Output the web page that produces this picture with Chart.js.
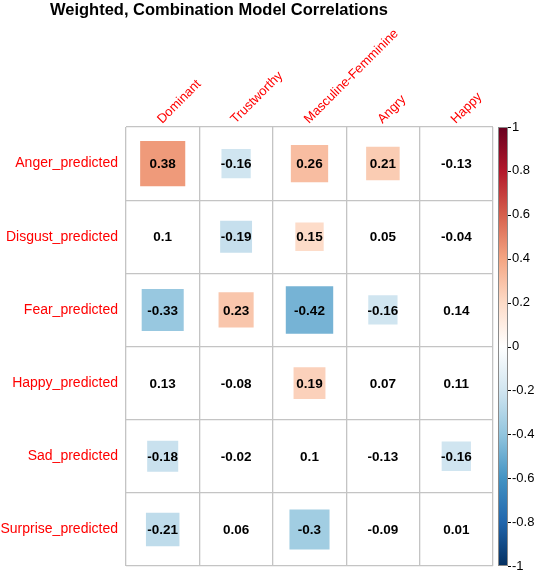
<!DOCTYPE html>
<html>
<head>
<meta charset="utf-8">
<title>Weighted, Combination Model Correlations</title>
<script src="https://cdn.jsdelivr.net/npm/chart.js@4.4.1/dist/chart.umd.min.js"></script>
<style>
    html, body { margin: 0; padding: 0; background: #ffffff; }
    #wrap { position: relative; width: 536px; height: 573px; }
</style>
</head>
<body>
<div id="wrap"><canvas id="corr-chart"></canvas></div>
<script>
(function () {
    "use strict";

    const titleText = "Weighted, Combination Model Correlations";
    const traits = ["Dominant", "Trustworthy", "Masculine-Femminine", "Angry", "Happy"];
    const predicted = ["Anger_predicted", "Disgust_predicted", "Fear_predicted", "Happy_predicted", "Sad_predicted", "Surprise_predicted"];

    // one row per predicted emotion, same order as traits
    const angerRow = [0.38, -0.16, 0.26, 0.21, -0.13];
    const disgustRow = [0.1, -0.19, 0.15, 0.05, -0.04];
    const fearRow = [-0.33, 0.23, -0.42, -0.16, 0.14];
    const happyRow = [0.13, -0.08, 0.19, 0.07, 0.11];
    const sadRow = [-0.18, -0.02, 0.1, -0.13, -0.16];
    const surpriseRow = [-0.21, 0.06, -0.3, -0.09, 0.01];

    const colorbarTicks = [-1, -0.8, -0.6, -0.4, -0.2, 0, 0.2, 0.4, 0.6, 0.8, 1];

    // smaller correlations get no square, only the number
    const minShown = 0.15;

    // RdBu, from -1 to 1
    const palette = ["#053061", "#2166AC", "#4393C3", "#92C5DE", "#D1E5F0", "#FFFFFF",
                     "#FDDBC7", "#F4A582", "#D6604D", "#B2182B", "#67001F"];

    const fontFamily = "'Liberation Sans', Arial, Helvetica, sans-serif";
    const gridColor = "#c4c4c4";

    const rows = [angerRow, disgustRow, fearRow, happyRow, sadRow, surpriseRow];
    const cells = [];
    rows.forEach((row, r) => {
        row.forEach((v, c) => {
            cells.push({ x: traits[c], y: predicted[r], v: v });
        });
    });

    function hexToRgb(hex) {
        const n = parseInt(hex.slice(1), 16);
        return [(n >> 16) & 255, (n >> 8) & 255, n & 255];
    }

    function colorFor(v) {
        // the printed squares come out a touch stronger than a plain ramp
        const s = Math.sign(v) * Math.pow(Math.abs(v), 0.87);
        const pos = (s + 1) / 2 * (palette.length - 1);
        const i = Math.min(Math.floor(pos), palette.length - 2);
        const t = pos - i;
        const a = hexToRgb(palette[i]);
        const b = hexToRgb(palette[i + 1]);
        const c = a.map((x, k) => Math.round(x + (b[k] - x) * t));
        return "rgb(" + c.join(",") + ")";
    }

    function squareSide(ctx) {
        const v = ctx.raw ? ctx.raw.v : 0;
        if (Math.abs(v) < minShown) return 0;
        const xs = ctx.chart.scales.x;
        const ys = ctx.chart.scales.y;
        const cw = Math.abs(xs.getPixelForValue(1) - xs.getPixelForValue(0));
        const ch = Math.abs(ys.getPixelForValue(1) - ys.getPixelForValue(0));
        return Math.min(cw, ch) * Math.sqrt(Math.abs(v));
    }

    // no extra room for overhanging tick labels, the boxes are fixed
    function noPadding(scale) {
        scale.paddingTop = 0;
        scale.paddingBottom = 0;
        scale.paddingLeft = 0;
        scale.paddingRight = 0;
    }

    // title sits above the plot, left of centre like the original
    const titlePlugin = {
        id: "plotTitle",
        afterDraw(chart) {
            const ctx = chart.ctx;
            ctx.save();
            ctx.font = "bold 16.5px " + fontFamily;
            ctx.fillStyle = "#000000";
            ctx.textAlign = "left";
            ctx.textBaseline = "alphabetic";
            ctx.fillText(titleText, 50, 15);
            ctx.restore();
        },
    };

    // correlation numbers in the middle of every cell
    const valuePlugin = {
        id: "cellValues",
        afterDatasetsDraw(chart) {
            const ctx = chart.ctx;
            const meta = chart.getDatasetMeta(0);
            ctx.save();
            ctx.font = "bold 13.5px " + fontFamily;
            ctx.fillStyle = "#000000";
            ctx.textAlign = "center";
            ctx.textBaseline = "middle";
            meta.data.forEach((pt, i) => {
                ctx.fillText(String(cells[i].v), pt.x, pt.y + 1);
            });
            ctx.restore();
        },
    };

    // colour key drawn inside the right hand axis
    const colorbarPlugin = {
        id: "colorbar",
        afterDraw(chart) {
            const s = chart.scales.cb;
            const ctx = chart.ctx;
            const top = s.getPixelForValue(1);
            const bottom = s.getPixelForValue(-1);
            const x0 = s.left + 5;
            const w = 10;
            const g = ctx.createLinearGradient(0, bottom, 0, top);
            palette.forEach((c, i) => g.addColorStop(i / (palette.length - 1), c));
            ctx.save();
            ctx.fillStyle = g;
            ctx.fillRect(x0, top, w, bottom - top);
            ctx.strokeStyle = "#8a8a8a";
            ctx.lineWidth = 1;
            ctx.strokeRect(x0 + 0.5, top + 0.5, w - 1, bottom - top - 1);
            ctx.strokeStyle = "#000000";
            ctx.beginPath();
            colorbarTicks.forEach((v) => {
                const y = Math.round(s.getPixelForValue(v)) + 0.5;
                ctx.moveTo(x0 + w, y);
                ctx.lineTo(x0 + w + 3, y);
            });
            ctx.stroke();
            ctx.restore();
        },
    };

    new Chart(document.getElementById("corr-chart"), {
        type: "scatter",
        data: {
            datasets: [
                {
                    data: cells,
                    pointStyle: "rect",
                    pointRadius: (ctx) => squareSide(ctx) / Math.SQRT2,
                    pointHoverRadius: (ctx) => squareSide(ctx) / Math.SQRT2,
                    backgroundColor: (ctx) => colorFor(ctx.raw ? ctx.raw.v : 0),
                    borderWidth: 0,
                    hoverBorderWidth: 0,
                },
            ],
        },
        options: {
            responsive: true,
            maintainAspectRatio: false,
            animation: false,
            events: [],
            layout: {
                padding: { top: 0, left: 0, right: 0, bottom: 7 },
            },
            plugins: {
                legend: { display: false },
                tooltip: { enabled: false },
                title: { display: false },
            },
            scales: {
                x: {
                    type: "category",
                    labels: traits,
                    position: "top",
                    offset: true,
                    grid: {
                        offset: true,
                        color: gridColor,
                        lineWidth: 1.3,
                        drawTicks: false,
                    },
                    border: { display: false },
                    ticks: {
                        color: "#ff0000",
                        font: { family: fontFamily, size: 13 },
                        minRotation: 45,
                        maxRotation: 45,
                        autoSkip: false,
                        padding: 0,
                        labelOffset: 8,
                    },
                    afterFit: (scale) => {
                        scale.height = 127;
                        noPadding(scale);
                    },
                },
                y: {
                    type: "category",
                    labels: predicted,
                    position: "left",
                    offset: true,
                    grid: {
                        offset: true,
                        color: gridColor,
                        lineWidth: 1.3,
                        drawTicks: false,
                    },
                    border: { display: false },
                    ticks: {
                        color: "#ff0000",
                        font: { family: fontFamily, size: 14 },
                        autoSkip: false,
                        padding: 8,
                    },
                    afterFit: (scale) => {
                        scale.width = 126;
                        noPadding(scale);
                    },
                },
                cb: {
                    type: "linear",
                    axis: "y",
                    position: "right",
                    min: -1,
                    max: 1,
                    grid: { display: false, drawTicks: false },
                    border: { display: false },
                    afterBuildTicks: (scale) => {
                        scale.ticks = colorbarTicks.map((v) => ({ value: v }));
                    },
                    ticks: {
                        color: "#000000",
                        font: { family: fontFamily, size: 13 },
                        padding: 19,
                        callback: (value) => String(value),
                    },
                    afterFit: (scale) => {
                        scale.width = 43;
                        noPadding(scale);
                    },
                },
            },
        },
        plugins: [colorbarPlugin, valuePlugin, titlePlugin],
    });
})();
</script>
</body>
</html>
